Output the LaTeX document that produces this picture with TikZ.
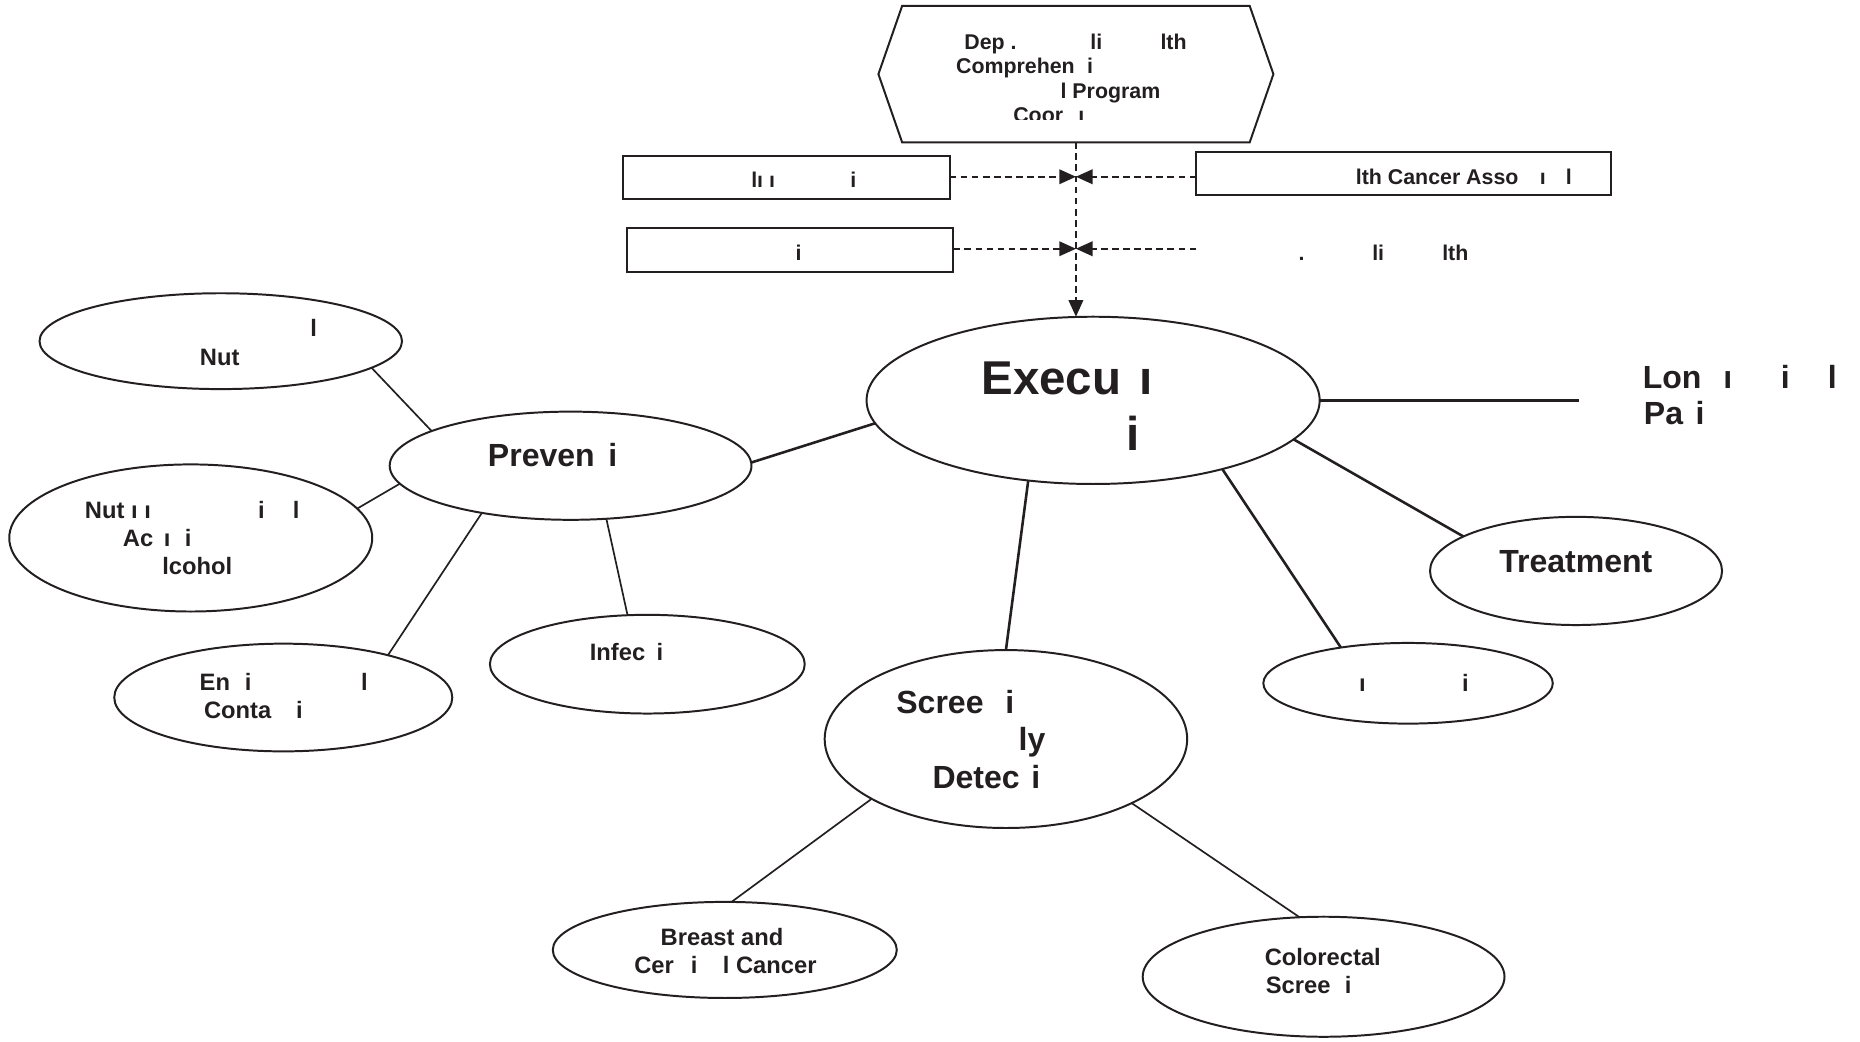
\documentclass[tikz,border=0pt]{standalone}
\usepackage{fontspec}
\setmainfont{Liberation Sans}
\usetikzlibrary{shapes.geometric,arrows.meta}
\definecolor{ink}{RGB}{35,31,32}
\newlength\mypx
\setlength\mypx{0.6pt}
\newcommand\fragat[2]{\makebox[0pt][l]{\hspace*{#1\mypx}#2}}
\tikzset{
  ell/.style={ellipse, draw=ink, line width=1pt, inner sep=0pt, outer sep=0pt},
  boxn/.style={rectangle, draw=ink, line width=1pt, inner sep=0pt, outer sep=0pt},
  txt/.style={anchor=base west, inner sep=0pt, outer sep=0pt, text=ink},
  tA/.style={txt, font=\bfseries\fontsize{24pt}{28pt}\selectfont},
  tB/.style={txt, font=\bfseries\fontsize{16.2pt}{19pt}\selectfont},
  tC/.style={txt, font=\bfseries\fontsize{12pt}{14pt}\selectfont},
  tD/.style={txt, font=\bfseries\fontsize{10.8pt}{13pt}\selectfont},
  link/.style={draw=ink, line width=0.85pt},
  mainlink/.style={draw=ink, line width=1.3pt},
  dashlink/.style={draw=ink, line width=0.8pt, dash pattern=on 3.4pt off 2.2pt},
  tipped/.style={-{Triangle[length=8.4pt,width=7.4pt]}}
}
\begin{document}
\begin{tikzpicture}[x=0.6pt,y=-0.6pt]
\fill[white] (0,0) rectangle (1568,877.6);
\useasboundingbox (0,0) rectangle (1568,877.6);

% hexagon (coordinating body)
\node[rectangle, inner sep=0pt, outer sep=0pt, minimum width=175.8pt, minimum height=69pt] (hex) at (907,62.5) {};
\draw[draw=ink, line width=1pt] (hex.north west) -- (hex.north east) -- ([xshift=12pt]hex.east) -- (hex.south east) -- (hex.south west) -- ([xshift=-12pt]hex.west) -- cycle;
\begin{scope}
\clip (700,0) rectangle (1100,100.6);
\node[tD] (hex1) at (812.2,41.9) {\fragat{0}{Dep .}\fragat{106.2}{li}\fragat{165.3}{lth}};
\node[tD] (hex2) at (805.2,62.1) {\fragat{0}{Comprehen}\fragat{110.4}{i}};
\node[tD] (hex3) at (894.1,83.2) {l Program};
\node[tD] (hex4) at (853.4,103.4) {\fragat{0}{Coor}\fragat{54.8}{ı}};
\end{scope}

% boxes
\node[boxn, minimum width=165pt, minimum height=21.48pt] (box1) at (663,149.6) {};
\node[boxn, minimum width=165pt, minimum height=21.84pt] (box3) at (666.2,210.8) {};
\node[boxn, minimum width=209.7pt, minimum height=21.72pt] (box2) at (1183.25,146.6) {};
\node[tD] (b1t) at (632.5,158.2) {\fragat{0}{lı ı}\fragat{83.5}{i}};
\node[tD] (b3t) at (670.7,219.5) {i};
\node[tD] (b2t) at (1142.2,155.5) {\fragat{0}{lth Cancer Asso}\fragat{155}{ı}\fragat{177}{l}};
\node[tD] (r2t) at (1094,220) {\fragat{0}{.}\fragat{62}{li}\fragat{121}{lth}};

% ellipses
\node[ell, minimum width=229.2pt, minimum height=84.6pt] (exec) at (921.5,337.5) {};
\node[ell, minimum width=183pt, minimum height=54.72pt] (prev) at (481,392.6) {};
\node[ell, minimum width=183.36pt, minimum height=48.48pt] (nut) at (186.1,287.6) {};
\node[ell, minimum width=183.6pt, minimum height=74.4pt] (naa) at (160.8,453.5) {};
\node[ell, minimum width=171pt, minimum height=54.48pt] (env) at (238.8,588) {};
\node[ell, minimum width=159.24pt, minimum height=49.92pt] (inf) at (545.7,559.9) {};
\node[ell, minimum width=183.36pt, minimum height=90pt] (scr) at (848,623) {};
\node[ell, minimum width=146.4pt, minimum height=40.8pt] (surv) at (1187,576) {};
\node[ell, minimum width=147.72pt, minimum height=54.72pt] (treat) at (1328.6,481.3) {};
\node[ell, minimum width=174pt, minimum height=48.6pt] (breast) at (611,800.8) {};
\node[ell, minimum width=183pt, minimum height=60.72pt] (colo) at (1115.8,823.4) {};
\coordinate (lonend) at (1331,337.5);

% texts
\node[tA] (ex1) at (826.6,332.2) {\fragat{0}{Execu}\fragat{133}{ı}};
\node[tA] (ex2) at (949.3,379.4) {i};
\node[tB] (lon1) at (1384,327.2) {\fragat{0}{Lon}\fragat{68}{ı}\fragat{116.5}{i}\fragat{156}{l}};
\node[tB] (lon2) at (1385,358.2) {\fragat{0}{Pa}\fragat{43.5}{i}};
\node[tB] (prevt) at (410.5,393.5) {\fragat{0}{Preven}\fragat{101.5}{i}};
\node[tB] (s1) at (754.8,601.3) {\fragat{0}{Scree}\fragat{92}{i}};
\node[tB] (s2) at (858.8,632.3) {ly};
\node[tB] (s3) at (785.3,664.5) {\fragat{0}{Detec}\fragat{83.4}{i}};
\node[tB] (treatt) at (1263.9,482.6) {Treatment};
\node[tC] (n1) at (261.6,283.7) {l};
\node[tC] (n2) at (168.5,307.9) {Nut};
\node[tC] (a1) at (70.8,437.2) {\fragat{0}{Nut ı ı}\fragat{145.9}{i}\fragat{175.2}{l}};
\node[tC] (a2) at (102.8,460.7) {\fragat{0}{Ac}\fragat{34.6}{ı}\fragat{52.3}{i}};
\node[tC] (a3) at (136.9,484.4) {lcohol};
\node[tC] (e1) at (167.5,581.9) {\fragat{0}{En}\fragat{38}{i}\fragat{136.1}{l}};
\node[tC] (e2) at (171.2,605.8) {\fragat{0}{Conta}\fragat{77.7}{i}};
\node[tC] (inft) at (496.4,556.6) {\fragat{0}{Infec}\fragat{56.4}{i}};
\node[tC] (survt) at (1144.8,583.1) {\fragat{0}{ı}\fragat{86.9}{i}};
\node[tC] (br1) at (557,797.4) {Breast and};
\node[tC] (br2) at (533.9,820.7) {\fragat{0}{Cer}\fragat{47.7}{i}\fragat{74.7}{l Cancer}};
\node[tC] (c1) at (1066.2,813.7) {Colorectal};
\node[tC] (c2) at (1066.3,837.6) {\fragat{0}{Scree}\fragat{66.6}{i}};

% dashed connectors
\coordinate (j1) at (907,149);
\coordinate (j2) at (907,209.7);
\coordinate (r2) at (1008.5,209.7);
\draw[dashlink, tipped] (hex.south) -- (hex.south |- exec.north);
\draw[dashlink, tipped] (box1.east |- j1) -- (j1);
\draw[dashlink, tipped] (box2.west |- j1) -- (j1);
\draw[dashlink, tipped] (box3.east |- j2) -- (j2);
\draw[dashlink, tipped] (r2) -- (j2);

% connectors from the executive committee
\draw[mainlink] (exec.186.9) -- (prev.1);
\draw[mainlink] (exec.231.4) -- (scr.90);
\draw[mainlink] (exec.332.7) -- (surv.152.3);
\draw[mainlink] (exec.349) -- (treat.163.7);
\draw[draw=ink, line width=1.8pt] (exec.east) -- (lonend);

% prevention branches
\draw[link] (prev.166.9) -- (nut.350.8);
\draw[link] (prev.186.4) -- (naa.10.4);
\draw[link] (prev.208.8) -- (env.22.5);
\draw[link] (prev.304) -- (inf.112.1);

% screening branches
\draw[link] (scr.204.2) -- (breast.82.2);
\draw[link] (scr.333.4) -- (colo.112.2);
\end{tikzpicture}
\end{document}
